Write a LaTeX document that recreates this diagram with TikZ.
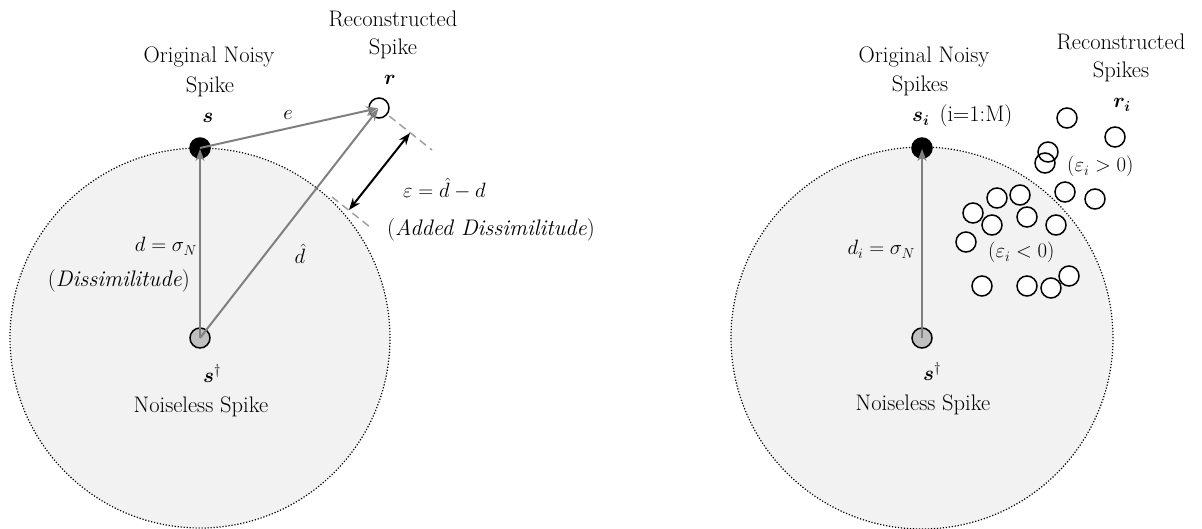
\documentclass[tikz,border=0pt]{standalone}
\usepackage{amsmath}
\usepackage{fontspec}
\usetikzlibrary{arrows.meta}
\definecolor{bgfill}{RGB}{242,242,242}
\definecolor{arrgray}{RGB}{128,128,128}
\definecolor{dashgray}{RGB}{160,160,160}
\definecolor{cleanfill}{RGB}{192,192,192}
\begin{document}
\begin{tikzpicture}[x=1pt,y=-1pt,
  lbl/.style={anchor=base, inner sep=0pt, font=\fontsize{22.5}{27}\selectfont},
  lble/.style={lbl, anchor=base east},
  lblw/.style={lbl, anchor=base west},
  region/.style={fill=bgfill, draw=black, line width=1.2pt, dash pattern=on 1.2pt off 1.8pt},
  spike/.style={circle, draw=black, line width=1.5pt, minimum size=20pt, inner sep=0pt},
  noisy/.style={spike, fill=black},
  clean/.style={spike, fill=cleanfill},
  recon/.style={spike, fill=white},
  ring/.style={spike},
  garrow/.style={draw=arrgray, line width=2pt, -{Stealth[length=12pt,width=9pt]}, shorten >=1pt},
  guide/.style={draw=dashgray, line width=1.5pt, dash pattern=on 8pt off 5pt},
  darrow/.style={draw=black, line width=2pt, {Stealth[length=12pt,width=9pt]}-{Stealth[length=12pt,width=9pt]}}
]
\useasboundingbox (0,0) rectangle (1202,529);
\clip (0,0) rectangle (1202,529);

% ---------------- left diagram ----------------
\coordinate (c1) at (200,338);
\path[region] (c1) circle (190pt);

\coordinate (rc) at (379,108);
\coordinate (g1) at (432,150);
\coordinate (g2a) at (332,197);
\coordinate (g2b) at (370,227);
\draw[guide] (rc) -- (g1);
\draw[guide] (g2a) -- (g2b);
\node[recon] (r1) at (rc) {};

\node[clean] (sd1) at (200,338) {};
\node[noisy] (s1) at (200,148) {};

\draw[garrow] (sd1.center) -- (s1.center);
\draw[garrow] (s1.center) -- (r1.center);
\draw[garrow] (sd1.center) -- (r1.center);

\coordinate (e1) at (410,133);
\coordinate (e2) at (349,210);
\draw[darrow] (e1) -- (e2);

\node[lbl] (t1) at (209,63) {Original Noisy};
\node[lbl] (t2) at (210,93) {Spike};
\node[lbl] (t3) at (208,123) {$\boldsymbol{s}$};
\node[lbl] (t4) at (393,27) {Reconstructed};
\node[lbl] (t5) at (393,55) {Spike};
\node[lbl] (t6) at (390,85) {$\boldsymbol{r}$};
\node[lbl] (t7) at (288,120) {$e$};
\node[lbl] (t8) at (300,264) {$\hat{d}$};
\node[lble] (t9) at (197,252) {$d=\sigma_N$};
\node[lble] (t10) at (190,287) {(\textit{Dissimilitude})};
\node[lblw] (t11) at (403,198) {$\varepsilon=\hat{d}-d$};
\node[lblw] (t12) at (387,236) {(\textit{Added Dissimilitude})};
\node[lbl] (t13) at (212,382) {$\boldsymbol{s}^{\dagger}$};
\node[lbl] (t14) at (201,412) {Noiseless Spike};

% ---------------- right diagram ----------------
\coordinate (c2) at (922,338);
\path[region] (c2) circle (191pt);

\node[clean] (sd2) at (922,338) {};
\node[noisy] (s2) at (922,148) {};
\draw[garrow] (sd2.center) -- (s2.center);

\foreach \px/\py [count=\k] in {1067/118,1115/137,1065/192,1095/199,997/198,1020/195,973/213,992/225,1027/217,1056/225,966/242,982/286,1027/286,1051/288,1069/276}
  \node[recon] (ri\k) at (\px,\py) {};
\node[ring] (ra) at (1048,152) {};
\node[ring] (rb) at (1045,163) {};

\node[lbl] (u1) at (924,63) {Original Noisy};
\node[lbl] (u2) at (920,92) {Spikes};
\node[lblw] (u3) at (912,122) {$\boldsymbol{s_i}$\hspace{10pt}(i=1:M)};
\node[lbl] (u4) at (1121,50) {Reconstructed};
\node[lbl] (u5) at (1121,78) {Spikes};
\node[lbl] (u6) at (1122,108) {$\boldsymbol{r_i}$};
\node[lblw] (u7) at (1067,172) {$(\varepsilon_i>0)$};
\node[lblw] (u8) at (988,258) {$(\varepsilon_i<0)$};
\node[lble] (u9) at (915,255) {$d_i=\sigma_N$};
\node[lbl] (u10) at (932,380) {$\boldsymbol{s}^{\dagger}$};
\node[lbl] (u11) at (923,410) {Noiseless Spike};
\end{tikzpicture}
\end{document}
